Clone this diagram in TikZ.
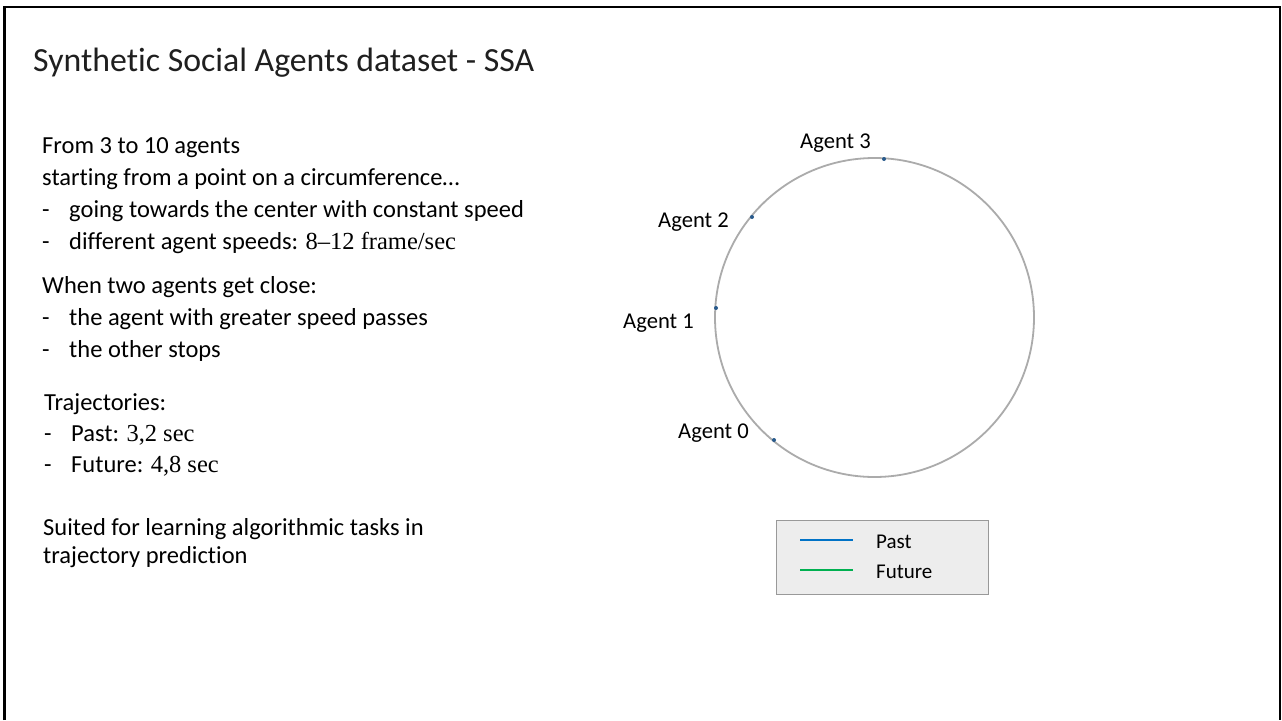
\documentclass[tikz,border=0pt]{standalone}
\usepackage{fontspec}
\setmainfont{Carlito}[Ligatures=NoCommon]
\newfontfamily\tnr{Liberation Serif}
\begin{document}
\begin{tikzpicture}[x=1pt,y=-1pt,
  body/.style={anchor=base west,inner sep=0pt,font=\fontsize{24.5}{29}\selectfont},
  agentlbl/.style={anchor=base west,inner sep=0pt,font=\fontsize{22.6}{26}\selectfont},
  agentdot/.style={circle,fill={rgb,255:red,40;green,90;blue,140},inner sep=0pt,minimum size=4pt},
  legtext/.style={anchor=base west,inner sep=0pt,font=\fontsize{21}{25}\selectfont}]
\useasboundingbox (0,0) rectangle (1282,720);
\fill[white] (0,0) rectangle (1282,720);
% slide frame, open at the bottom
\draw[line width=2.4pt] (4.5,720) -- (4.5,7) -- (1280,7) -- (1280,720);

% title
\node[anchor=base west,inner sep=0pt,font=\fontsize{33.8}{40}\selectfont,text=black!88] (title) at (33,71) {Synthetic Social Agents dataset - SSA};

% left column
\node[body] (l1) at (42,153) {From 3 to 10 agents};
\node[body] (l2) at (42,185) {starting from a point on a circumference\ldots};
\node[body] (b1) at (42,217) {-};
\node[body] (l3) at (69,217) {going towards the center with constant speed};
\node[body] (b2) at (42,249) {-};
\node[body] (l4) at (69,249) {different agent speeds: {\tnr 8–12 frame/sec}};
\node[body] (l5) at (42,293) {When two agents get close:};
\node[body] (b3) at (42,325) {-};
\node[body] (l6) at (69,325) {the agent with greater speed passes};
\node[body] (b4) at (42,357) {-};
\node[body] (l7) at (69,357) {the other stops};
\node[body] (l8) at (44,410) {Trajectories:};
\node[body] (b5) at (44,441) {-};
\node[body] (l9) at (71,441) {Past: {\tnr 3,2 sec}};
\node[body] (b6) at (44,472) {-};
\node[body] (l10) at (71,472) {Future: {\tnr 4,8 sec}};
\node[body] (l11) at (43,535) {Suited for learning algorithmic tasks in};
\node[body] (l12) at (43,563) {trajectory prediction};

% starting circle with the agents
\draw[line width=1.8pt,black!33] (874.5,317.5) circle (159.5pt);
\node[agentdot] (d0) at (774,440) {};
\node[agentdot] (d1) at (716,308) {};
\node[agentdot] (d2) at (752,217) {};
\node[agentdot] (d3) at (884,159) {};
\node[agentlbl] (a3) at (800,148) {Agent 3};
\node[agentlbl] (a2) at (658,227) {Agent 2};
\node[agentlbl] (a1) at (623,328) {Agent 1};
\node[agentlbl] (a0) at (678,438) {Agent 0};

% legend
\node[draw=black!40,fill=black!7,line width=0.8pt,minimum width=212pt,minimum height=74pt,inner sep=0pt] (leg) at (882,557) {};
\coordinate (p1) at (800,540);
\coordinate (p2) at (853,540);
\coordinate (f1) at (800,570);
\coordinate (f2) at (853,570);
\draw[line width=2.4pt,color={rgb,255:red,0;green,114;blue,198}] (p1) -- (p2);
\draw[line width=2.4pt,color={rgb,255:red,0;green,176;blue,80}] (f1) -- (f2);
\node[legtext] (tp) at (876,548) {Past};
\node[legtext] (tf) at (876,578) {Future};
\end{tikzpicture}
\end{document}
